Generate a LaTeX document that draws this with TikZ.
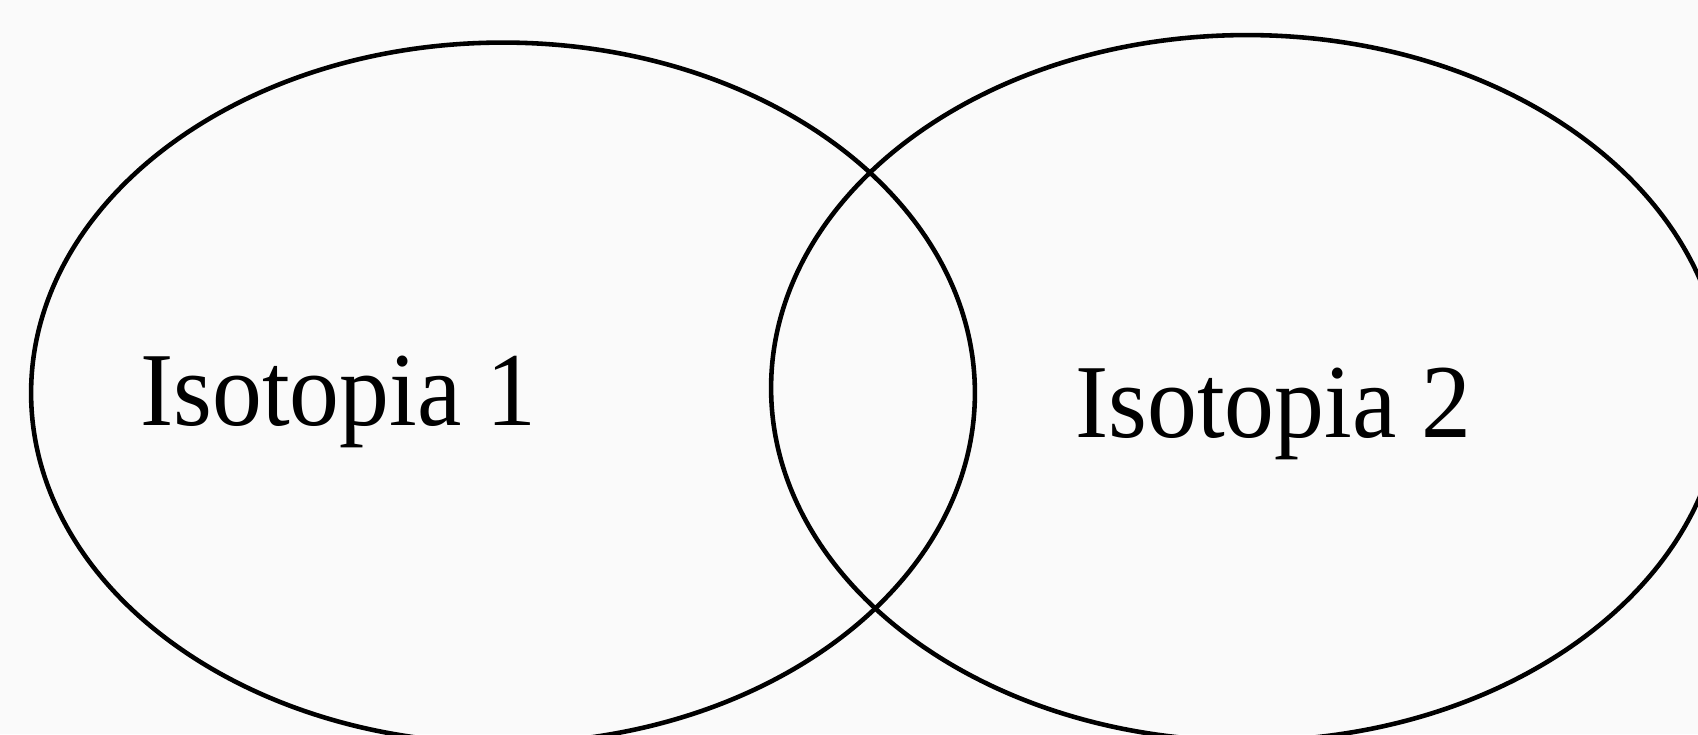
\documentclass[tikz,border=0pt]{standalone}
\usepackage{fontspec}
\setmainfont{Liberation Serif}
\begin{document}
\begin{tikzpicture}[x=0.02cm,y=-0.02cm,line width=2.6pt]
  \fill[white!98!black] (0,0) rectangle (1698,734);
  \useasboundingbox (0,0) rectangle (1698,734);
  \coordinate (c1) at (503,393);
  \coordinate (c2) at (1247,388);
  \draw (c1) ellipse [x radius=9.44cm, y radius=7.01cm];
  \draw (c2) ellipse [x radius=9.52cm, y radius=7.06cm];
  \node[anchor=base west,inner sep=0pt,xscale=0.95,font=\fontsize{59.75}{70}\selectfont] (iso1) at (138,425) {Isotopia 1};
  \node[anchor=base west,inner sep=0pt,xscale=0.95,font=\fontsize{59.75}{70}\selectfont] (iso2) at (1073,437) {Isotopia 2};
\end{tikzpicture}
\end{document}
